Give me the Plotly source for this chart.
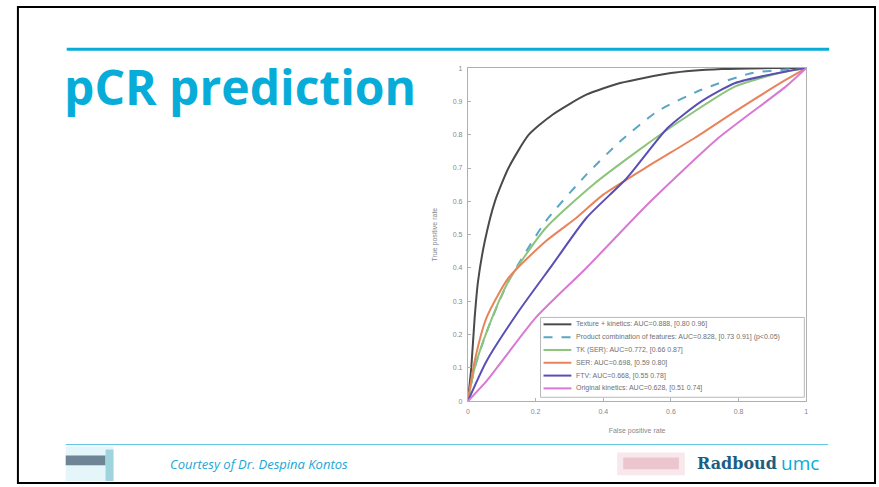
import plotly.graph_objects as go

# ROC curves (false positive rate -> true positive rate)
fpr_tk = [0, 0.01, 0.02, 0.03, 0.05, 0.08, 0.12, 0.18, 0.25, 0.35, 0.45, 0.6, 0.75, 0.9, 1]
tpr_tk = [0, 0.1, 0.25, 0.36, 0.48, 0.6, 0.7, 0.8, 0.86, 0.92, 0.955, 0.985, 0.997, 1, 1]

fpr_prod = [0, 0.02, 0.06, 0.12, 0.23, 0.35, 0.45, 0.56, 0.69, 0.84, 1]
tpr_prod = [0, 0.1, 0.22, 0.36, 0.54, 0.68, 0.78, 0.87, 0.935, 0.985, 1]

fpr_tksr = [0, 0.02, 0.06, 0.12, 0.23, 0.37, 0.5, 0.64, 0.79, 0.92, 1]
tpr_tksr = [0, 0.1, 0.22, 0.36, 0.52, 0.65, 0.75, 0.85, 0.945, 0.985, 1]

fpr_ser = [0, 0.02, 0.055, 0.12, 0.23, 0.32, 0.4, 0.54, 0.67, 0.79, 0.94, 1]
tpr_ser = [0, 0.12, 0.25, 0.37, 0.48, 0.55, 0.62, 0.71, 0.79, 0.87, 0.965, 1]

fpr_ftv = [0, 0.055, 0.15, 0.25, 0.35, 0.47, 0.59, 0.69, 0.79, 0.94, 1]
tpr_ftv = [0, 0.12, 0.27, 0.41, 0.55, 0.67, 0.82, 0.9, 0.955, 0.99, 1]

fpr_orig = [0, 0.055, 0.2, 0.35, 0.54, 0.74, 0.94, 1]
tpr_orig = [0, 0.06, 0.25, 0.4, 0.6, 0.79, 0.945, 1]

series_names = [
    'Texture + kinetics: AUC=0.888, [0.80 0.96]',
    'Product combination of features: AUC=0.828, [0.73 0.91] (p<0.05)',
    'TK (SER): AUC=0.772, [0.66 0.87]',
    'SER: AUC=0.698, [0.59 0.80]',
    'FTV: AUC=0.668, [0.55 0.78]',
    'Original kinetics: AUC=0.628, [0.51 0.74]',
]

x_ticks = [0, 0.2, 0.4, 0.6, 0.8, 1]
x_ticklabels = ['0', '0.2', '0.4', '0.6', '0.8', '1']
y_ticks = [0, 0.1, 0.2, 0.3, 0.4, 0.5, 0.6, 0.7, 0.8, 0.9, 1]
y_ticklabels = ['0', '0.1', '0.2', '0.3', '0.4', '0.5', '0.6', '0.7', '0.8', '0.9', '1']

W, H = 879, 487
CYAN = '#08acd8'

curves = [
    (fpr_tk, tpr_tk, '#4a4a4a', 'solid'),
    (fpr_prod, tpr_prod, '#5aa6c4', 'dash'),
    (fpr_tksr, tpr_tksr, '#8cc47a', 'solid'),
    (fpr_ser, tpr_ser, '#e8845c', 'solid'),
    (fpr_ftv, tpr_ftv, '#5a4fb4', 'solid'),
    (fpr_orig, tpr_orig, '#d879d4', 'solid'),
]

fig = go.Figure()
for (xs, ys, col, dash), name in zip(curves, series_names):
    fig.add_trace(go.Scatter(x=xs, y=ys, mode='lines', name=name, showlegend=False,
                             line=dict(color=col, width=2, dash=dash, shape='spline', smoothing=0.6)))

def px(x):
    return x / W

def py(y):
    return 1 - y / H

shapes = [
    # slide frame
    dict(type='rect', xref='paper', yref='paper', x0=px(16), x1=px(877), y0=py(486), y1=py(3),
         line=dict(color='black', width=2)),
    # title rule and footer rule
    dict(type='line', xref='paper', yref='paper', x0=px(65), x1=px(831), y0=py(46), y1=py(46),
         line=dict(color=CYAN, width=3)),
    dict(type='line', xref='paper', yref='paper', x0=px(64), x1=px(830), y0=py(447), y1=py(447),
         line=dict(color='#5cc4e4', width=1)),
    # left footer logo (blurred)
    dict(type='rect', xref='paper', yref='paper', x0=px(64), x1=px(112), y0=py(484), y1=py(449),
         fillcolor='#e4f6fa', line=dict(width=0)),
    dict(type='rect', xref='paper', yref='paper', x0=px(64), x1=px(104), y0=py(468), y1=py(458),
         fillcolor='#6d8594', line=dict(width=0)),
    dict(type='rect', xref='paper', yref='paper', x0=px(104), x1=px(112), y0=py(484), y1=py(452),
         fillcolor='#9fd4de', line=dict(width=0)),
    # pink logo (blurred)
    dict(type='rect', xref='paper', yref='paper', x0=px(618), x1=px(686), y0=py(478), y1=py(455),
         fillcolor='#f8e8ec', line=dict(width=0)),
    dict(type='rect', xref='paper', yref='paper', x0=px(624), x1=px(680), y0=py(472), y1=py(460),
         fillcolor='#ecc6ce', line=dict(width=0)),
    # legend box
    dict(type='rect', xref='paper', yref='paper', x0=px(541), x1=px(806), y0=py(399), y1=py(318),
         fillcolor='white', line=dict(color='#b8b8b8', width=1), layer='above'),
]

annotations = [
    dict(text='<b>pCR prediction</b>', x=px(60), y=py(84), xref='paper', yref='paper',
         xanchor='left', yanchor='middle', showarrow=False,
         font=dict(family='Open Sans', size=48, color=CYAN)),
    dict(text='<i>Courtesy of Dr. Despina Kontos</i>', x=px(167), y=py(467), xref='paper', yref='paper',
         xanchor='left', yanchor='middle', showarrow=False,
         font=dict(family='Open Sans', size=13, color='#1aa6d6')),
    dict(text='<b>Radboud</b>', x=px(696), y=py(466), xref='paper', yref='paper',
         xanchor='left', yanchor='middle', showarrow=False,
         font=dict(family='DejaVu Serif', size=16, color='#1b5e82')),
    dict(text='umc', x=px(823), y=py(466), xref='paper', yref='paper',
         xanchor='right', yanchor='middle', showarrow=False,
         font=dict(family='Open Sans', size=19, color=CYAN)),
]

# legend rows drawn inside the plot, as on the slide
row_y = [325, 338, 351, 364, 377, 390]
for (xs, ys, col, dash), name, ry in zip(curves, series_names, row_y):
    shapes.append(dict(type='line', xref='paper', yref='paper', x0=px(544), x1=px(572),
                       y0=py(ry), y1=py(ry), line=dict(color=col, width=2, dash=dash), layer='above'))
    annotations.append(dict(text=name, x=px(575), y=py(ry), xref='paper', yref='paper',
                            xanchor='left', yanchor='middle', showarrow=False,
                            font=dict(family='Arial', size=7, color='#707070')))

axis_style = dict(range=[0, 1], showgrid=False, zeroline=False, showline=True, mirror=True,
                  linecolor='#b0b0b0', linewidth=1, ticks='inside', ticklen=3, tickcolor='#b0b0b0',
                  ticklabelstandoff=3,
                  tickfont=dict(family='Arial', size=7, color='#888888'))

fig.update_layout(
    width=W, height=H,
    margin=dict(l=0, r=0, t=0, b=0),
    paper_bgcolor='white', plot_bgcolor='white',
    showlegend=False,
    xaxis=dict(domain=[px(468), px(808)], tickvals=x_ticks, ticktext=x_ticklabels,
               title=dict(text='False positive rate', standoff=14,
                          font=dict(family='Arial', size=7, color='#888888')),
               **axis_style),
    yaxis=dict(domain=[py(403), py(65)], tickvals=y_ticks, ticktext=y_ticklabels,
               title=dict(text='True positive rate', standoff=14,
                          font=dict(family='Arial', size=7, color='#888888')),
               **axis_style),
    shapes=shapes,
    annotations=annotations,
)

fig.write_html('out.html', config={'displayModeBar': False},
               post_script="document.body.style.margin='0';")
